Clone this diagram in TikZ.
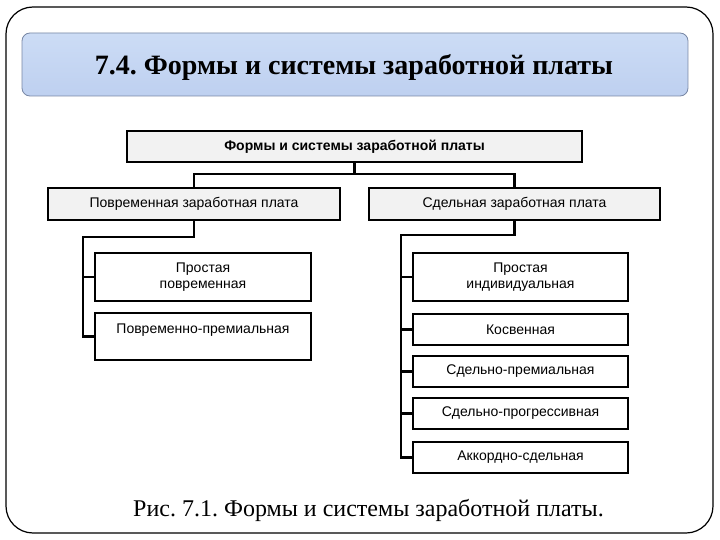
\documentclass[tikz,border=0pt]{standalone}
\usepackage{fontspec}
\setmainfont{Liberation Serif}
\newfontfamily\arial{Liberation Sans}
\definecolor{bantop}{RGB}{204,220,245}
\definecolor{banbot}{RGB}{190,208,240}
\definecolor{banline}{RGB}{120,135,165}
\definecolor{boxfill}{RGB}{242,242,242}
\begin{document}
\frenchspacing
\begin{tikzpicture}[x=1pt,y=-1pt,
  frame/.style={draw=black,line width=1.2pt,rounded corners=27pt},
  banner/.style={draw=banline,line width=0.8pt,rounded corners=8pt,top color=bantop,bottom color=banbot},
  mainbox/.style={draw=black,line width=2.3pt,fill=boxfill,inner sep=0pt,minimum height=31pt,font=\arial\fontsize{14}{16.5}\selectfont,align=center},
  subbox/.style={draw=black,line width=2.3pt,fill=white,inner sep=0pt,font=\arial\fontsize{14}{16.5}\selectfont,align=center},
  conn/.style={draw=black,line width=2.3pt}]
\useasboundingbox (0,0) rectangle (720,540);
\fill[white] (0,0) rectangle (720,540);
\draw[frame] (6,7) rectangle (713,533);
\draw[banner] (22,33) rectangle (688,96);
\node[font=\bfseries\fontsize{28}{33}\selectfont] (title) at (354,67) {7.4. Формы и системы заработной платы};

\node[mainbox,minimum width=455pt,font=\arial\bfseries\fontsize{14}{16.5}\selectfont] (top) at (354.5,146.5) {Формы и системы заработной платы};
\node[mainbox,minimum width=292pt,minimum height=32pt] (L1) at (194,204) {Повременная заработная плата};
\node[mainbox,minimum width=291pt,minimum height=32pt] (R1) at (514.5,204) {Сдельная заработная плата};

\node[subbox,minimum width=216pt,minimum height=48pt] (LA) at (203,277) {Простая\\повременная};
\node[subbox,minimum width=216pt,minimum height=47pt] (LB) at (203,336.5) {Повременно-премиальная\\\mbox{}};

\node[subbox,minimum width=215pt,minimum height=48pt] (RA) at (520.5,277) {Простая\\индивидуальная};
\node[subbox,minimum width=215pt,minimum height=31pt] (RB) at (520.5,329.5) {Косвенная};
\node[subbox,minimum width=215pt,minimum height=31pt] (RC) at (520.5,371.5) {Сдельно-премиальная};
\node[subbox,minimum width=215pt,minimum height=31pt] (RD) at (520.5,413.5) {Сдельно-прогрессивная};
\node[subbox,minimum width=215pt,minimum height=31pt] (RE) at (520.5,457.5) {Аккордно-сдельная};

\coordinate (j) at (354.5,174);
\coordinate (ls) at (83,237);
\coordinate (rs) at (401,235);

\draw[conn] (top.south) -- (j);
\draw[conn] (L1.north) |- (j) -| (R1.north);
\draw[conn] (L1.south) |- (ls) |- (LB.west);
\draw[conn] (ls |- LA.west) -- (LA.west);
\draw[conn] (R1.south) |- (rs) |- (RE.west);
\draw[conn] (rs |- RA.west) -- (RA.west);
\draw[conn] (rs |- RB.west) -- (RB.west);
\draw[conn] (rs |- RC.west) -- (RC.west);
\draw[conn] (rs |- RD.west) -- (RD.west);

\node[font=\fontsize{24}{28}\selectfont] (cap) at (368.5,510) {Рис. 7.1. Формы и системы заработной платы.};
\end{tikzpicture}
\end{document}
